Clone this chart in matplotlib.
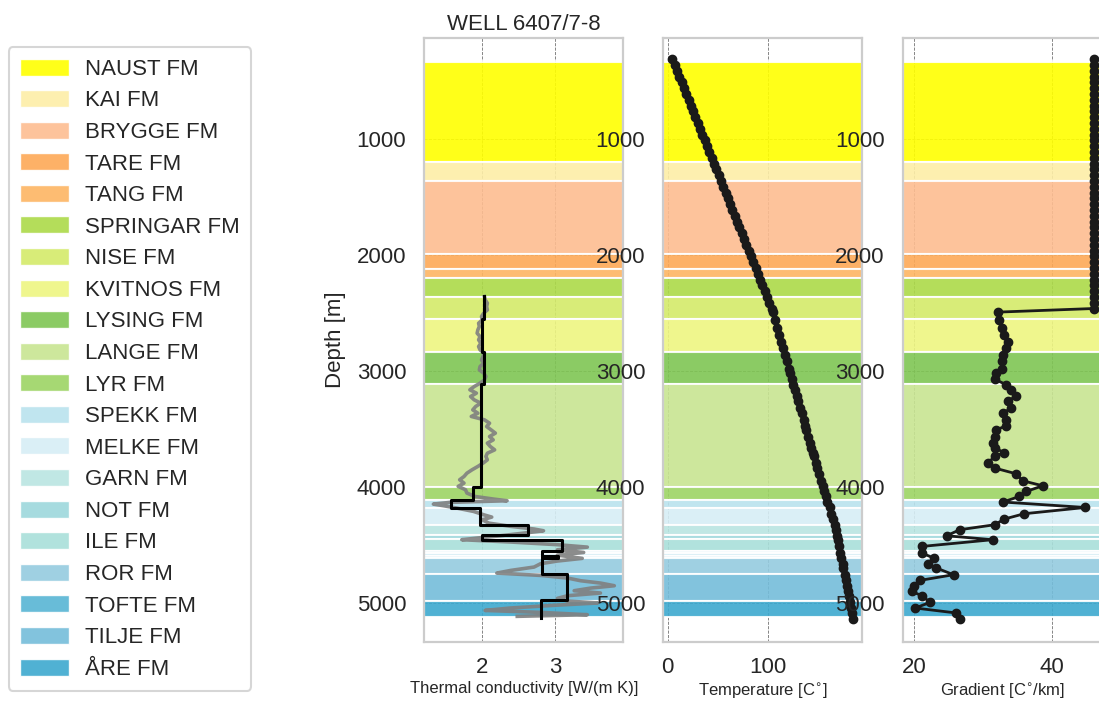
import numpy as np
import matplotlib
matplotlib.use("Agg")
import matplotlib.pyplot as plt
from matplotlib.patches import Patch

plt.rcParams['font.family'] = ['Liberation Sans', 'DejaVu Sans']

# formation intervals [m]
fm_names = ['NAUST FM', 'KAI FM', 'BRYGGE FM', 'TARE FM', 'TANG FM', 'SPRINGAR FM',
            'NISE FM', 'KVITNOS FM', 'LYSING FM', 'LANGE FM', 'LYR FM', 'SPEKK FM',
            'MELKE FM', 'GARN FM', 'NOT FM', 'ILE FM', 'ROR FM', 'MELKE FM', 'TOFTE FM',
            'ROR FM', 'TILJE FM', 'ÅRE FM']
fm_tops = [336, 1198, 1362, 1991, 2121, 2198, 2357, 2553, 2836, 3109, 4000, 4114,
           4178, 4328, 4411, 4450, 4553, 4568, 4595, 4612, 4752, 4984]
fm_bases = [1198, 1362, 1991, 2121, 2198, 2357, 2553, 2836, 3109, 4000, 4114, 4178,
            4328, 4411, 4450, 4553, 4566, 4593, 4612, 4752, 4984, 5124]

legend_names = ['NAUST FM', 'KAI FM', 'BRYGGE FM', 'TARE FM', 'TANG FM', 'SPRINGAR FM',
                'NISE FM', 'KVITNOS FM', 'LYSING FM', 'LANGE FM', 'LYR FM', 'SPEKK FM',
                'MELKE FM', 'GARN FM', 'NOT FM', 'ILE FM', 'ROR FM', 'TOFTE FM',
                'TILJE FM', 'ÅRE FM']
legend_colors = ['#ffff00', '#fdeea7', '#fdbd90', '#fda956', '#fdb563', '#acda48',
                 '#d4ea69', '#eef581', '#7fc653', '#c8e591', '#9cd464', '#b9e3ee',
                 '#d6eef5', '#b9e5e1', '#9cd8dc', '#a9dfda', '#95cbdf', '#57b5d4',
                 '#74bdda', '#3da9cf']
fm_color = dict(zip(legend_names, legend_colors))

# thermal conductivity log [W/(m K)]
log_depth = [2357, 2385, 2414, 2443, 2472, 2500, 2529, 2558, 2587, 2615,
             2644, 2673, 2702, 2730, 2759, 2788, 2817, 2845, 2874, 2903,
             2932, 2960, 2989, 3018, 3046, 3075, 3104, 3133, 3161, 3190,
             3219, 3248, 3276, 3305, 3334, 3363, 3391, 3420, 3449, 3478,
             3506, 3535, 3564, 3593, 3621, 3650, 3679, 3708, 3736, 3765,
             3794, 3822, 3851, 3880, 3909, 3937, 3966, 3994, 4023, 4052,
             4081, 4104, 4118, 4132, 4147, 4161, 4181, 4210, 4239, 4259,
             4282, 4311, 4339, 4362, 4377, 4397, 4420, 4440, 4454, 4474,
             4497, 4518, 4541, 4564, 4587, 4615, 4638, 4661, 4690, 4719,
             4742, 4762, 4785, 4808, 4828, 4851, 4871, 4894, 4914, 4937,
             4960, 4983, 5000, 5020, 5043, 5064, 5081, 5101, 5115]
log_k = [2.03, 2.04, 2.07, 2.06, 2.07, 2.02, 1.99, 2.00, 1.95, 1.96,
         1.94, 1.93, 1.97, 1.95, 1.98, 1.95, 1.97, 2.03, 2.01, 1.99,
         2.02, 1.97, 1.96, 2.02, 2.05, 2.03, 1.97, 1.89, 1.83, 1.92,
         1.84, 1.89, 1.98, 1.91, 1.87, 1.94, 1.85, 2.03, 2.10, 2.06,
         2.12, 2.18, 2.10, 2.15, 2.07, 2.11, 2.17, 2.07, 2.05, 2.07,
         2.01, 1.94, 1.86, 1.79, 1.75, 1.69, 1.75, 1.67, 1.77, 1.79,
         1.90, 2.16, 2.34, 1.56, 1.33, 1.47, 1.65, 1.88, 2.02, 2.13,
         2.00, 2.09, 2.39, 2.71, 2.84, 2.57, 2.25, 1.93, 1.72, 2.39,
         3.03, 3.44, 3.03, 3.39, 3.03, 3.37, 3.03, 2.80, 2.71, 2.39,
         2.20, 2.80, 3.17, 3.35, 3.62, 3.81, 3.49, 3.26, 3.62, 3.17,
         3.03, 3.17, 3.58, 2.98, 2.39, 2.04, 2.80, 3.44, 2.48]

# formation-averaged conductivity
cond_top = [2351, 2553, 2836, 3109, 4000, 4114, 4181, 4325, 4411, 4460, 4555, 4595, 4610, 4750, 4971]
cond_base = [2553, 2836, 3109, 4000, 4114, 4181, 4325, 4411, 4460, 4555, 4595, 4610, 4750, 4971, 5129]
cond_val = [2.02, 1.99, 2.03, 1.98, 1.87, 1.57, 1.97, 2.63, 1.99, 3.09, 2.82, 3.04, 2.82, 3.16, 2.80]

# temperature and gradient profile
depth_top = np.arange(310, 2461, 50)
temp_top = [4.6, 6.9, 9.2, 11.5, 13.8, 16.1, 18.4, 20.7, 23.0, 25.3,
            27.6, 29.9, 32.2, 34.5, 36.8, 39.1, 41.4, 43.7, 46.0, 48.3,
            50.6, 52.9, 55.2, 57.5, 59.8, 62.1, 64.4, 66.7, 69.0, 71.3,
            73.6, 75.9, 78.2, 80.5, 82.8, 85.1, 87.4, 89.7, 92.0, 94.3,
            96.6, 98.9, 101.2, 103.5]
grad_top = [46.1, 46.1, 46.1, 46.1, 46.1, 46.1, 46.1, 46.1, 46.1, 46.1,
            46.1, 46.1, 46.1, 46.1, 46.1, 46.1, 46.1, 46.1, 46.1, 46.1,
            46.1, 46.1, 46.1, 46.1, 46.1, 46.1, 46.1, 46.1, 46.1, 46.1,
            46.1, 46.1, 46.1, 46.1, 46.1, 46.1, 46.1, 46.1, 46.1, 46.1,
            46.1, 46.1, 46.1, 46.1]
depth_low = [2491, 2558, 2629, 2687, 2745, 2802, 2859, 2917, 2983, 3017,
             3069, 3118, 3161, 3213, 3262, 3319, 3362, 3420, 3472, 3506,
             3564, 3621, 3664, 3702, 3736, 3793, 3836, 3885, 3946, 3989,
             4038, 4081, 4129, 4176, 4230, 4276, 4325, 4368, 4420, 4454,
             4512, 4569, 4612, 4661, 4698, 4756, 4805, 4857, 4900, 4937,
             4995, 5043, 5086, 5138]
temp_low = [104.5, 106.7, 109.0, 110.9, 112.9, 114.8, 116.7, 118.6, 120.7, 121.8,
            123.5, 125.1, 126.6, 128.4, 130.0, 132.0, 133.4, 135.3, 137.1, 138.1,
            140.0, 141.8, 143.1, 144.4, 145.5, 147.2, 148.6, 150.3, 152.5, 154.1,
            155.9, 157.4, 159.0, 161.1, 163.0, 164.5, 166.1, 167.2, 168.5, 169.6,
            170.8, 172.0, 173.0, 174.1, 174.9, 176.4, 177.4, 178.5, 179.3, 180.1,
            181.4, 182.3, 183.5, 184.9]
grad_low = [32.2, 32.4, 32.7, 33.1, 33.6, 33.4, 32.9, 32.7, 32.7, 31.9,
            31.7, 33.4, 34.1, 34.8, 33.6, 34.1, 32.9, 33.4, 33.4, 31.9,
            31.7, 31.4, 31.7, 33.1, 31.7, 30.7, 31.7, 34.8, 35.8, 38.7,
            36.3, 35.3, 32.9, 44.9, 36.0, 33.1, 31.7, 26.6, 24.7, 31.4,
            21.1, 21.1, 22.8, 22.0, 23.2, 25.7, 20.8, 19.9, 19.6, 21.1,
            22.3, 20.1, 26.1, 26.6]

depth = np.concatenate([depth_top, depth_low])
temp = np.concatenate([temp_top, temp_low])
grad = np.concatenate([grad_top, grad_low])

fig = plt.figure(figsize=(10.99, 7.08), dpi=100)
lefts = [0.3861, 0.6036, 0.8214]
axes = [fig.add_axes([l, 0.0936, 0.1811, 0.8527]) for l in lefts]

for ax in axes:
    ax.set_facecolor('white')
    ax.set_axisbelow(True)
    ax.grid(True, color='0.45', ls='--', lw=0.6)
    for s in ax.spines.values():
        s.set_color('#cccccc')
        s.set_linewidth(1.6)
    ax.tick_params(axis='y', length=0, pad=13, labelsize=16, labelcolor='#262626')
    ax.tick_params(axis='x', length=0, pad=11, labelsize=16, labelcolor='#262626')
    for name, top, base in zip(fm_names, fm_tops, fm_bases):
        ax.axhspan(top, base, facecolor=fm_color[name], alpha=0.9,
                   edgecolor='white', lw=1.5)
    ax.set_yticks([1000, 2000, 3000, 4000, 5000])
    ax.set_ylim(5334, 127)

ax1, ax2, ax3 = axes

# conductivity
ax1.plot(log_k, log_depth, color='#808080', lw=2.6, alpha=0.9)
step_x = np.repeat(cond_val, 2)
step_y = np.column_stack([cond_top, cond_base]).ravel()
ax1.plot(step_x, step_y, color='black', lw=2.2)
ax1.set_xlim(1.206, 3.934)
ax1.set_xticks([2, 3])
ax1.set_xlabel('Thermal conductivity [W/(m K)]', fontsize=12, labelpad=2, color='#262626')
ax1.set_ylabel('Depth [m]', fontsize=16, labelpad=8, color='#262626')
ax1.set_title('WELL 6407/7-8', fontsize=16, color='#262626')

# temperature
ax2.plot(temp, depth, color='#1a1a1a', lw=2.2, marker='o', ms=6)
ax2.set_xlim(-4.4, 193.8)
ax2.set_xticks([0, 100])
ax2.set_xlabel(r'Temperature [C$^{\circ}$]', fontsize=12, labelpad=2, color='#262626')

# gradient
ax3.plot(grad, depth, color='#1a1a1a', lw=2, marker='o', ms=6)
ax3.set_xlim(18.3, 47.3)
ax3.set_xticks([20, 40])
ax3.set_xlabel(r'Gradient [C$^{\circ}$/km]', fontsize=12, labelpad=2, color='#262626')

handles = [Patch(facecolor=c, alpha=0.9, edgecolor='white') for c in legend_colors]
leg = fig.legend(handles, legend_names, loc='upper left', bbox_to_anchor=(0.008, 0.933),
                 fontsize=16, handlelength=2.2, handleheight=0.8, handletextpad=0.75,
                 labelspacing=0.466, borderpad=0.5, borderaxespad=0, frameon=True,
                 fancybox=True, labelcolor='#262626')
leg.get_frame().set_edgecolor('#cccccc')
leg.get_frame().set_linewidth(1.5)

fig.savefig('out.png', dpi=100)
